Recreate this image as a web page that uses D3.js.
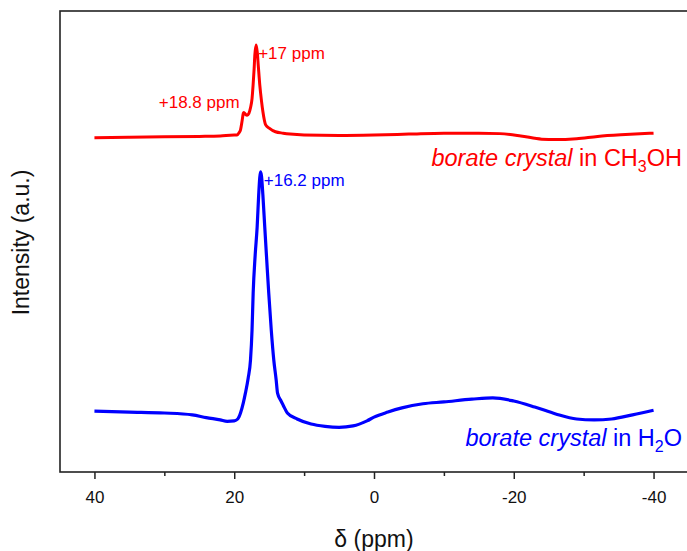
<!DOCTYPE html>
<html>
<head>
<meta charset="utf-8">
<script src="https://cdn.jsdelivr.net/npm/d3@7"></script>
<style>
  body { margin: 0; background: #fff; }
  svg { font-family: "Liberation Sans", Arial, sans-serif; }
</style>
</head>
<body>
<svg id="chart"></svg>
<script>
// chemical shift (ppm) and intensity (a.u.)
const methanolPpm = [40, 35, 30, 25, 22, 20, 19.6, 19.3, 19.1, 18.9, 18.7, 18.63, 18.4, 18.15, 17.9, 17.67, 17.45,
  17.3, 17.15, 17.05, 16.86, 16.7, 16.55, 16.34, 16.1, 15.9, 15.5, 15.0, 14.1, 13, 12, 10, 5, 0, -5, -10, -15, -18,
  -21, -24, -26, -29, -32, -36, -40];
const methanolInt = [72.5, 72.6, 72.7, 72.8, 72.9, 73.1, 73.1, 73.6, 74.2, 75.9, 77.8, 78.0, 77.6, 77.4, 77.8, 79.0, 81.0,
  83.9, 87.5, 90.5, 92.6, 91.0, 88.0, 83.9, 80.5, 78.2, 75.3, 74.6, 73.8, 73.5, 73.3, 73.1, 73.0, 73.1, 73.3, 73.5, 73.5, 73.4,
  72.9, 72.2, 72.1, 72.3, 72.8, 73.2, 73.5];

const waterPpm = [40, 35, 30, 26, 24, 22, 21, 20, 19.5, 19.1, 18.7, 18.4, 18.0, 17.67, 17.45, 17.29, 17.0, 16.72, 16.5,
  16.35, 16.24, 16.1, 15.9, 15.63, 15.35, 15.06, 14.7, 14.34, 14.0, 13.8, 13.3, 13.0, 12.4, 11, 9, 7, 5, 3, 1, 0,
  -2, -4, -7, -10, -14, -17, -20, -23, -26, -29, -31.5, -34, -37, -40];
const waterInt = [13.2, 13.0, 12.8, 12.4, 11.8, 11.3, 11.0, 11.1, 11.5, 12.8, 15.0, 17.1, 20.4, 24.3, 30.8, 38.8, 47.1, 53.1, 60.1,
  63.8, 65.1, 64.2, 60.1, 53.1, 46.0, 38.8, 30.8, 24.3, 20.0, 17.1, 15.4, 14.5, 12.8, 11.5, 10.4, 9.9, 9.7, 10.0, 11.1, 11.9,
  13.0, 13.9, 14.8, 15.2, 15.8, 16.1, 15.4, 14.1, 12.6, 11.5, 11.3, 11.5, 12.4, 13.4];

const majorTicks = [40, 20, 0, -20, -40];
const minorTicks = [30, 10, -10, -30];

const peakLabels = ["+17 ppm", "+18.8 ppm", "+16.2 ppm"];
const peakPpm = [17, 18.8, 16.2];

const width = 687, height = 551;
const margin = {top: 11, right: -2, bottom: 79, left: 60};

const svg = d3.select("#chart")
  .attr("width", width)
  .attr("height", height);

const x = d3.scaleLinear().domain([45, -45]).range([59.5, 688.5]);
const y = d3.scaleLinear().domain([0, 100]).range([height - margin.bottom, margin.top]);

const methanol = methanolPpm.map((p, i) => ({ppm: p, v: methanolInt[i]}));
const water = waterPpm.map((p, i) => ({ppm: p, v: waterInt[i]}));

const line = d3.line()
  .x(d => x(d.ppm))
  .y(d => y(d.v))
  .curve(d3.curveMonotoneX);

svg.append("path")
  .datum(methanol)
  .attr("fill", "none")
  .attr("stroke", "#ff0000")
  .attr("stroke-width", 3)
  .attr("stroke-linejoin", "round")
  .attr("d", line);

svg.append("path")
  .datum(water)
  .attr("fill", "none")
  .attr("stroke", "#0000ff")
  .attr("stroke-width", 3.2)
  .attr("stroke-linejoin", "round")
  .attr("d", line);

// frame
svg.append("rect")
  .attr("x", margin.left)
  .attr("y", margin.top)
  .attr("width", width - margin.right - margin.left)
  .attr("height", height - margin.bottom - margin.top)
  .attr("fill", "none")
  .attr("stroke", "#222")
  .attr("stroke-width", 1.6);

// x axis
const xAxis = svg.append("g")
  .attr("transform", `translate(0,${height - margin.bottom})`)
  .call(d3.axisBottom(x).tickValues(majorTicks).tickSize(7).tickPadding(12).tickFormat(d => String(d)));
xAxis.select(".domain").remove();
xAxis.selectAll("line").attr("stroke", "#222").attr("stroke-width", 1.5);
xAxis.selectAll("text").attr("font-size", 17).attr("fill", "#111")
  .attr("font-family", "Liberation Sans, Arial, sans-serif");

const xMinor = svg.append("g")
  .attr("transform", `translate(0,${height - margin.bottom})`)
  .call(d3.axisBottom(x).tickValues(minorTicks).tickSize(4).tickFormat(""));
xMinor.select(".domain").remove();
xMinor.selectAll("line").attr("stroke", "#222").attr("stroke-width", 1.5);

svg.append("text")
  .attr("x", x(0))
  .attr("y", 547)
  .attr("text-anchor", "middle")
  .attr("font-size", 23)
  .attr("fill", "#111")
  .text("δ (ppm)");

svg.append("text")
  .attr("transform", `translate(29,${(margin.top + height - margin.bottom) / 2 + 1}) rotate(-90)`)
  .attr("text-anchor", "middle")
  .attr("font-size", 23)
  .attr("fill", "#111")
  .text("Intensity (a.u.)");

// peak annotations, placed at the local maximum near each shift
const peakColor = ["#ff0000", "#ff0000", "#0000ff"];
const peakSeries = [methanol, methanol, water];
peakLabels.forEach((label, i) => {
  const top = d3.max(peakSeries[i].filter(d => Math.abs(d.ppm - peakPpm[i]) <= 0.3), d => d.v);
  const end = i === 1;
  svg.append("text")
    .attr("x", x(peakPpm[i]) + (end ? -3 : 3))
    .attr("y", y(top) + (end ? -4 : 14))
    .attr("text-anchor", end ? "end" : "start")
    .attr("font-size", 17)
    .attr("fill", peakColor[i])
    .text(label);
});

// series labels
function seriesLabel(ypos, color, formula) {
  const t = svg.append("text")
    .attr("x", 682)
    .attr("y", ypos)
    .attr("text-anchor", "end")
    .attr("font-size", 23.5)
    .attr("fill", color);
  t.append("tspan").attr("font-style", "italic").text("borate crystal");
  t.append("tspan").text(" in ");
  let shift = 0;
  formula.forEach(part => {
    const s = t.append("tspan").text(part.s);
    if (part.sub) {
      s.attr("font-size", 16).attr("dy", 6);
      shift = -6;
    } else {
      s.attr("dy", shift);
      shift = 0;
    }
  });
}
seriesLabel(y(73.1) + 31, "#ff0000", [{s: "CH"}, {s: "3", sub: true}, {s: "OH"}]);
seriesLabel(y(11.3) + 26, "#0000ff", [{s: "H"}, {s: "2", sub: true}, {s: "O"}]);
</script>
</body>
</html>
